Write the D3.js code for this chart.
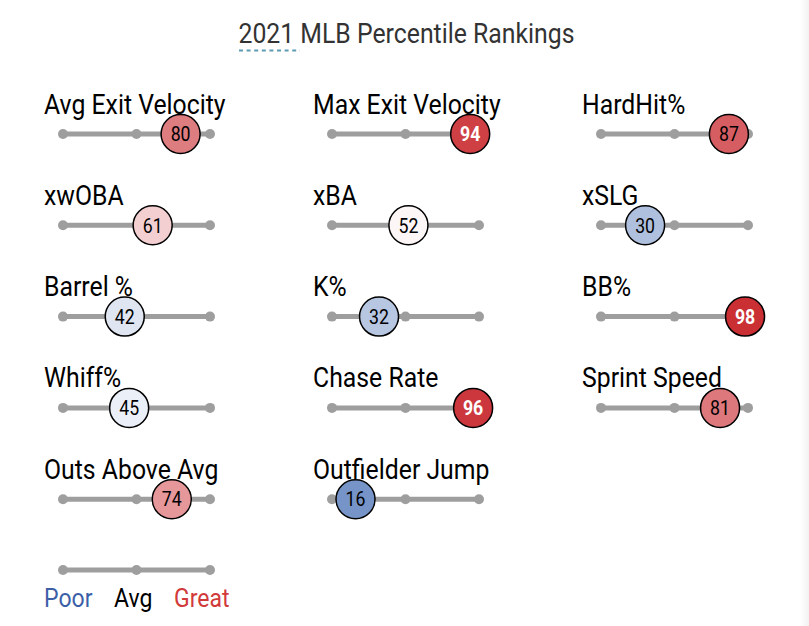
<!DOCTYPE html>
<html><head><meta charset="utf-8">
<script src="https://cdn.jsdelivr.net/npm/d3@7"></script>
<style>
html,body{margin:0;padding:0;background:#fff;}
svg{display:block;font-family:Roboto,"Noto Sans",sans-serif;}
</style></head>
<body>
<svg id="c" width="809" height="626"></svg>
<script>
const title = "2021 MLB Percentile Rankings";
const metrics = ["Avg Exit Velocity","Max Exit Velocity","HardHit%",
                 "xwOBA","xBA","xSLG",
                 "Barrel %","K%","BB%",
                 "Whiff%","Chase Rate","Sprint Speed",
                 "Outs Above Avg","Outfielder Jump"];
const percentiles = [80,94,87, 61,52,30, 42,32,98, 45,96,81, 74,16];
const trackTicks = [0,50,100];
const legendLabels = ["Poor","Avg","Great"];

const svg = d3.select("#c");
const W = 809, H = 626;
const SX = 0.886; // condensed look

function ctext(parent, x, y, size){
  return parent.append("text")
    .attr("transform",`translate(${x},${y}) scale(${SX},1)`)
    .attr("font-size",size);
}

// faint right-edge shadow
const defs = svg.append("defs");
const g0 = defs.append("linearGradient").attr("id","sh").attr("x1","0").attr("x2","1");
g0.append("stop").attr("offset","0").attr("stop-color","#fff");
g0.append("stop").attr("offset","1").attr("stop-color","#f1f1f1");
svg.append("rect").attr("x",800).attr("y",0).attr("width",9).attr("height",H).attr("fill","url(#sh)");

// title
ctext(svg, 406.5, 43, 28).attr("text-anchor","middle").attr("fill","#333").text(title);
svg.append("line").attr("x1",239).attr("x2",300).attr("y1",50.5).attr("y2",50.5)
  .attr("stroke","#5c9db4").attr("stroke-width",2).attr("stroke-dasharray","4,3.6");

const color = d3.scaleLinear().domain([0,50,100]).range(["#3661ad","#ffffff","#c8262c"]);

const nCols = 3;
const colX = d3.scalePoint().domain(d3.range(nCols)).range([63,601]);
const rowY = d3.scaleLinear().domain([0,1]).range([134,225.3]);
const trackLen = 147;

function track(g, x0){
  const x = d3.scaleLinear().domain([0,100]).range([x0, x0+trackLen]);
  g.append("line").attr("x1",x(0)).attr("x2",x(100)).attr("y1",0).attr("y2",0)
    .attr("stroke","#9e9e9e").attr("stroke-width",5);
  g.selectAll("circle.tick").data(trackTicks).join("circle").attr("class","tick")
    .attr("cx",d=>x(d)).attr("cy",0).attr("r",5).attr("fill","#9e9e9e");
  return x;
}

metrics.forEach((m,i)=>{
  const c = i % nCols, r = Math.floor(i / nCols);
  const x0 = colX(c), y = rowY(r);
  const g = svg.append("g").attr("transform",`translate(0,${y})`);
  ctext(g, x0-19, -20.5, 28).attr("fill","#000").text(m);
  const x = track(g, x0);
  const v = percentiles[i];
  g.append("circle").attr("cx",x(v)).attr("cy",0).attr("r",19.5)
    .attr("fill",color(v)).attr("stroke","#000").attr("stroke-width",1.5);
  ctext(g, x(v), 0, 20).attr("dy","0.36em").attr("text-anchor","middle")
    .attr("fill", v>=90 ? "#fff" : "#000")
    .attr("font-weight", v>=90 ? 700 : 400).text(v);
});

// legend
const lg = svg.append("g").attr("transform","translate(0,570)");
track(lg, 63);
const legCols = ["#3d5fa8","#000","#d23a3a"];
const legX = [44,114,174];
legendLabels.forEach((d,i)=>{
  ctext(lg, legX[i], 36.5, 26).attr("fill",legCols[i]).text(d);
});
</script>
</body></html>
